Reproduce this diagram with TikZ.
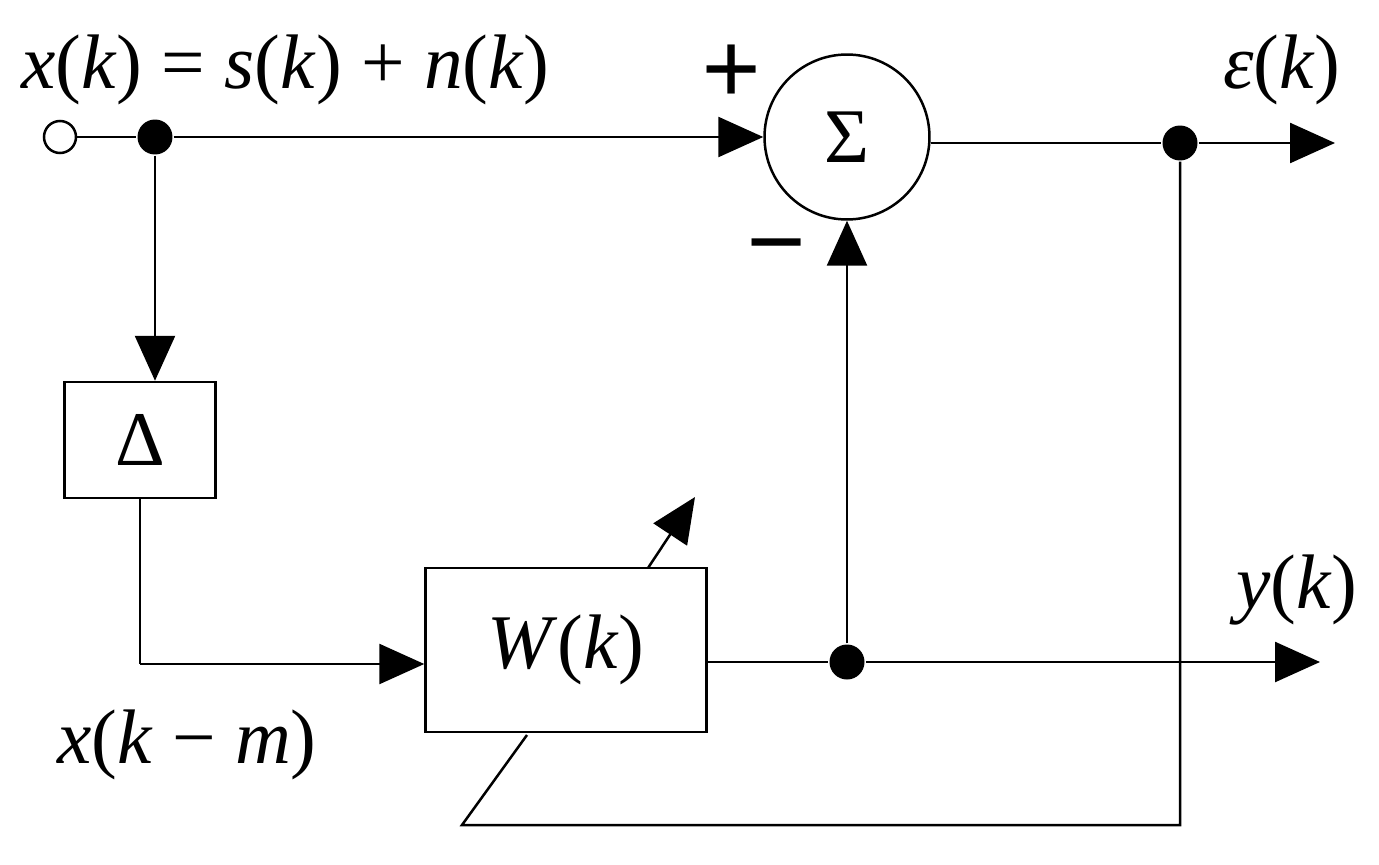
\documentclass[tikz,border=0pt]{standalone}
\usepackage{fontspec}
\setmainfont{Liberation Serif}
\usetikzlibrary{arrows.meta}
\begin{document}
\begin{tikzpicture}[x=0.02cm,y=-0.02cm,line width=0.05cm,
  arr/.style={-{Triangle[length=0.9cm,width=0.8cm]}},
  dot/.style={circle,fill=black,inner sep=0pt,minimum size=0.7cm},
  box/.style={draw,rectangle,anchor=north west},
  lab/.style={font=\fontsize{44}{48}\selectfont,inner sep=0pt}]
\useasboundingbox (0,0) rectangle (1379,865);
\node[draw,circle,inner sep=0pt,minimum size=0.64cm] (in) at (60,137) {};
\node[dot] (d1) at (155,137) {};
\node[draw,circle,minimum size=3.3cm,inner sep=0pt,lab] (sum) at (847,137) {Σ};
\node[dot] (d2) at (1180,143) {};
\coordinate (eout) at (1335,143);
\node[draw,minimum width=3.02cm,minimum height=2.32cm,lab] (del) at (140,440) {Δ};
\node[draw,minimum width=5.62cm,minimum height=3.28cm,lab] (W) at (566,650) {\textit{W}(\textit{k})};
\node[dot] (d3) at (847,662) {};
\coordinate (yout) at (1320,662);
\coordinate (c1) at (140,664);
\coordinate (c2) at (1180,825);
\coordinate (c3) at (462,825);
\coordinate (c4) at (527,735);
\coordinate (a1) at (648,568);
\coordinate (a2) at (695,497);
\draw (in) -- (d1);
\draw[arr] (d1) -- (sum.west |- d1);
\draw (sum.east |- d2) -- (d2);
\draw[arr] (d2) -- (eout);
\draw[arr] (d1) -- (d1 |- del.north);
\draw (del.south) -- (c1);
\draw[arr] (c1) -- (W.west |- c1);
\draw (W.east |- d3) -- (d3);
\draw[arr] (d3) -- (yout);
\draw[arr] (d3) -- (sum.south);
\draw (d2) -- (c2) -- (c3) -- (c4);
\draw[arr] (a1) -- (a2);
\node[lab,anchor=west] (t1) at (20,70) {\textit{x}(\textit{k}) = \textit{s}(\textit{k}) + \textit{n}(\textit{k})};
\node[lab,font=\fontsize{60}{60}\selectfont\bfseries] (p) at (732,75) {+};
\node[lab,font=\fontsize{60}{60}\selectfont\bfseries] (m) at (777,258) {−};
\node[lab] (t2) at (1282,70) {\textit{ε}(\textit{k})};
\node[lab] (t3) at (1297,590) {\textit{y}(\textit{k})};
\node[lab] (t4) at (187,745) {\textit{x}(\textit{k} − \textit{m})};
\end{tikzpicture}
\end{document}
